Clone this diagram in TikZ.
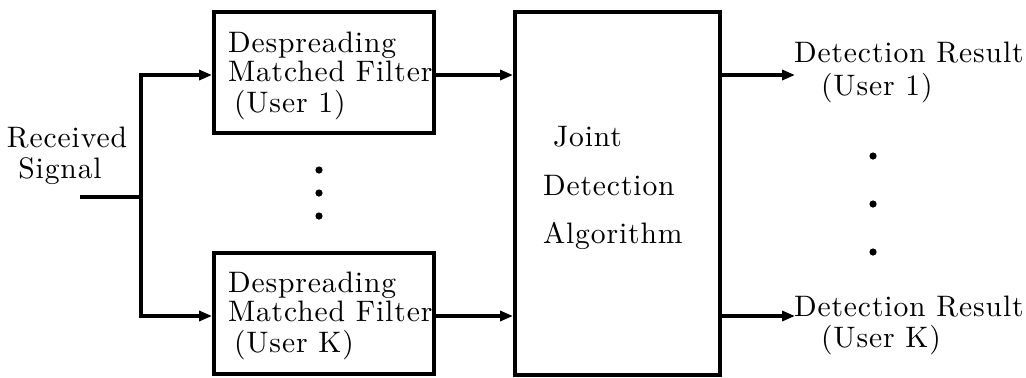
\documentclass[tikz,border=0pt]{standalone}
\usepackage{fontspec}
\setmainfont{lmroman10-regular.otf}[LetterSpace=3]
\usetikzlibrary{arrows.meta}
\begin{document}
\begin{tikzpicture}[x=0.5pt,y=-0.5pt,
  line width=2pt,
  every node/.style={font=\fontsize{14.8}{18}\selectfont, inner sep=0pt},
  blk/.style={draw, rectangle, line width=2pt, minimum width=#1},
  arr/.style={-{Triangle[length=6.5pt,width=5pt]}},
  txt/.style={anchor=base west},
  dot/.style={circle, fill, minimum size=3.6pt, inner sep=0pt}]
\useasboundingbox (0,0) rectangle (1026,377);
% blocks
\node[blk=110pt, minimum height=60.5pt] (b1) at (324,72.5) {};
\node[blk=110pt, minimum height=60.5pt] (bk) at (324,313.5) {};
\node[blk=102.5pt, minimum height=181.5pt] (jd) at (617.5,193.5) {};
% texts
\node[txt] (b1a) at (226,52) {Despreading};
\node[txt] (b1b) at (226,81) {Matched Filter};
\node[txt] (b1c) at (232,112) {(User 1)};
\node[txt] (bka) at (226,292) {Despreading};
\node[txt] (bkb) at (226,321) {Matched Filter};
\node[txt] (bkc) at (232,352) {(User K)};
\node[anchor=base] (rs1) at (67,147) {Received};
\node[anchor=base] (rs2) at (60,178) {Signal};
\node[txt] (j1) at (551,146) {Joint};
\node[txt] (j2) at (541,195) {Detection};
\node[txt] (j3) at (541,243) {Algorithm};
\node[txt] (r1a) at (792,62) {Detection Result};
\node[txt] (r1b) at (819,95) {(User 1)};
\node[txt] (rka) at (792,316) {Detection Result};
\node[txt] (rkb) at (819,347) {(User K)};
% dots
\node[dot] (m1) at (319,170) {};
\node[dot] (m2) at (319,193) {};
\node[dot] (m3) at (319,216) {};
\node[dot] (o1) at (873,156) {};
\node[dot] (o2) at (873,204) {};
\node[dot] (o3) at (873,252) {};
% coordinates
\coordinate (in) at (80,197);
\coordinate (sp) at (141,197);
\coordinate (ya) at (0,75);
\coordinate (yb) at (0,316);
\coordinate (e1) at (795,75);
\coordinate (ek) at (795,316);
% connectors
\draw (in) -- (sp);
\draw[line cap=rect] (sp |- ya) -- (sp |- yb);
\draw[arr] (sp |- ya) -- (b1.west |- ya);
\draw[arr] (sp |- yb) -- (bk.west |- yb);
\draw[arr] (b1.east |- ya) -- (jd.west |- ya);
\draw[arr] (bk.east |- yb) -- (jd.west |- yb);
\draw[arr] (jd.east |- ya) -- (e1);
\draw[arr] (jd.east |- yb) -- (ek);
\end{tikzpicture}
\end{document}
